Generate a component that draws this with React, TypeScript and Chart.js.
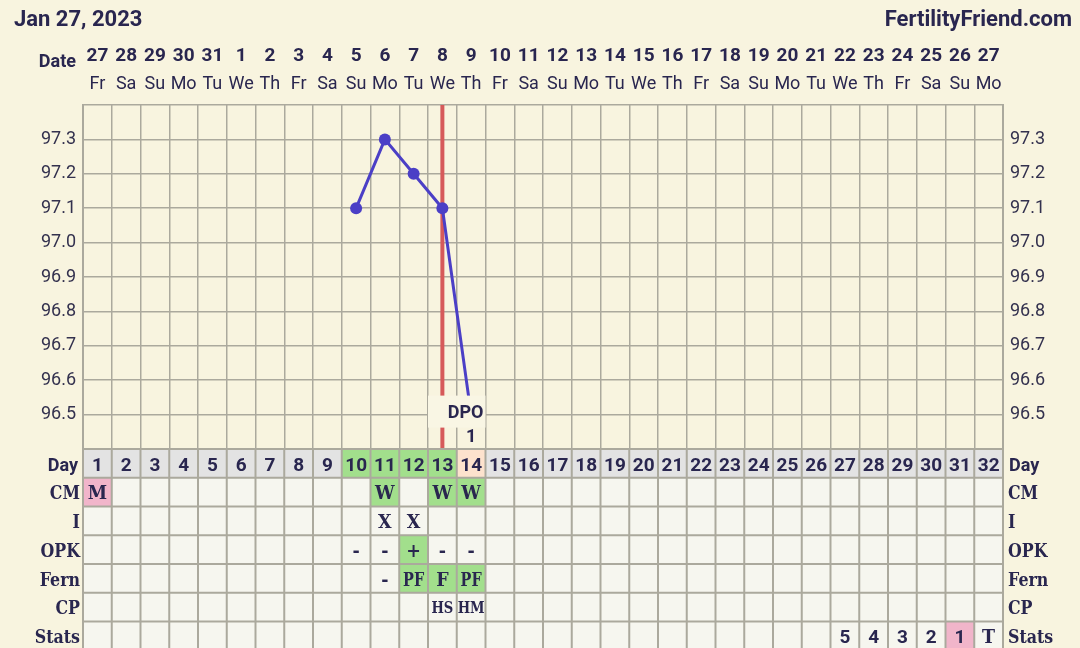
import React, { useEffect, useRef } from "react";
import { Chart, registerables } from "chart.js";

Chart.register(...registerables);

// ---------- data ----------
const cycleDays = [
  "1", "2", "3", "4", "5", "6", "7", "8", "9", "10", "11", "12", "13", "14", "15", "16",
  "17", "18", "19", "20", "21", "22", "23", "24", "25", "26", "27", "28", "29", "30", "31", "32",
];
const dates = [
  "27", "28", "29", "30", "31", "1", "2", "3", "4", "5", "6", "7", "8", "9", "10", "11",
  "12", "13", "14", "15", "16", "17", "18", "19", "20", "21", "22", "23", "24", "25", "26", "27",
];
const weekdays = [
  "Fr", "Sa", "Su", "Mo", "Tu", "We", "Th", "Fr", "Sa", "Su", "Mo", "Tu", "We", "Th", "Fr", "Sa",
  "Su", "Mo", "Tu", "We", "Th", "Fr", "Sa", "Su", "Mo", "Tu", "We", "Th", "Fr", "Sa", "Su", "Mo",
];
const temperatures: (number | null)[] = [
  null, null, null, null, null, null, null, null, null, 97.1, 97.3, 97.2, 97.1, 96.5, null, null,
  null, null, null, null, null, null, null, null, null, null, null, null, null, null, null, null,
];
const tempTicksMin = 96.4;
const tempTicksMax = 97.4;
const ovulationDay = 13;
const dpoLabel = "DPO";
const dpoDay = 14;
const dpoValue = "1";
const chartDate = "Jan 27, 2023";
const siteName = "FertilityFriend.com";

// table rows (keyed by cycle day)
const rowLabels = ["Day", "CM", "I", "OPK", "Fern", "CP", "Stats"];
const cmRow: Record<number, string> = { 1: "M", 11: "W", 13: "W", 14: "W" };
const intercourseRow: Record<number, string> = { 11: "X", 12: "X" };
const opkRow: Record<number, string> = { 10: "-", 11: "-", 12: "+", 13: "-", 14: "-" };
const fernRow: Record<number, string> = { 11: "-", 12: "PF", 13: "F", 14: "PF" };
const cpRow: Record<number, string> = { 13: "HS", 14: "HM" };
const statsRow: Record<number, string> = { 27: "5", 28: "4", 29: "3", 30: "2", 31: "1", 32: "T" };

// cell highlights (keyed by cycle day)
const dayHighlight: Record<number, string> = { 10: "green", 11: "green", 12: "green", 13: "green", 14: "peach" };
const cmHighlight: Record<number, string> = { 1: "pink", 11: "green", 13: "green", 14: "green" };
const opkHighlight: Record<number, string> = { 12: "green" };
const fernHighlight: Record<number, string> = { 12: "green", 13: "green", 14: "green" };
const statsHighlight: Record<number, string> = { 31: "pink" };

// ---------- styles ----------
const BG = "#f8f4df";
const INK = "#29264f";
const GRID = "#aba99d";
const CELL = "#f6f6ef";
const DAYCELL = "#e3e3e3";
const HL: Record<string, string> = { green: "#a2df8c", pink: "#f1b5ca", peach: "#fde2cd" };
const RED = "#d65a5a";
const LINE = "#4b3fc6";
const SANS = "Roboto";
const SLAB = '"DejaVu Serif"';

function txt(
  ctx: CanvasRenderingContext2D,
  s: string,
  x: number,
  y: number,
  font: string,
  align: CanvasTextAlign,
  color: string,
  condense = 1
) {
  ctx.font = font;
  ctx.textAlign = align;
  ctx.textBaseline = "alphabetic";
  ctx.fillStyle = color;
  if (condense < 1) {
    const w = ctx.measureText(s).width;
    ctx.fillText(s, x, y, w * condense);
  } else {
    ctx.fillText(s, x, y);
  }
}

const ffPlugin = {
  id: "ffPlugin",
  beforeDraw(chart: any) {
    const { ctx, width, height } = chart;
    ctx.save();
    ctx.fillStyle = BG;
    ctx.fillRect(0, 0, width, height);
    ctx.restore();
  },
  beforeDatasetsDraw(chart: any) {
    const { ctx, chartArea, scales } = chart;
    const x = scales.x.getPixelForValue(ovulationDay - 1);
    ctx.save();
    ctx.strokeStyle = RED;
    ctx.lineWidth = 4;
    ctx.beginPath();
    ctx.moveTo(x, chartArea.top);
    ctx.lineTo(x, chartArea.bottom);
    ctx.stroke();
    ctx.restore();
  },
  afterDatasetsDraw(chart: any) {
    const { ctx, chartArea, scales } = chart;
    const colW = (chartArea.right - chartArea.left) / cycleDays.length;
    const xs = scales.x;
    const ys = scales.y;
    const left = xs.getPixelForValue(dpoDay - 2) - colW / 2;
    const right = xs.getPixelForValue(dpoDay - 1) + colW / 2;
    const lineY = ys.getPixelForValue(96.5);
    ctx.save();
    ctx.fillStyle = "#f9f6e4";
    ctx.fillRect(left, lineY - 19, right - left, 32);
    txt(ctx, dpoLabel, right - 2, lineY + 3, `bold 18px ${SANS}`, "right", INK);
    txt(ctx, dpoValue, xs.getPixelForValue(dpoDay - 1), chartArea.bottom - 7, `bold 18px ${SANS}`, "center", INK);
    ctx.restore();
  },
  afterDraw(chart: any) {
    const { ctx, chartArea, scales, width } = chart;
    const xs = scales.x;
    const n = cycleDays.length;
    const colW = (chartArea.right - chartArea.left) / n;
    ctx.save();

    // header
    txt(ctx, chartDate, 14, 26, `bold 22px ${SANS}`, "left", INK);
    txt(ctx, siteName, width - 8, 26, `bold 22px ${SANS}`, "right", INK);
    txt(ctx, "Date", 76, 67, `bold 18px ${SANS}`, "right", INK);
    for (let i = 0; i < n; i++) {
      const cx = xs.getPixelForValue(i);
      txt(ctx, dates[i], cx, 61, `bold 19px ${SANS}`, "center", INK);
      txt(ctx, weekdays[i], cx, 89, `18px ${SANS}`, "center", INK);
    }

    // table
    const rowH = colW;
    const top = chartArea.bottom;
    const rows: Record<number, string>[] = [
      {},
      cmRow,
      intercourseRow,
      opkRow,
      fernRow,
      cpRow,
      statsRow,
    ];
    const highlights: Record<number, string>[] = [
      dayHighlight,
      cmHighlight,
      {},
      opkHighlight,
      fernHighlight,
      {},
      statsHighlight,
    ];
    for (let r = 0; r < rowLabels.length; r++) {
      const y0 = top + r * rowH;
      for (let i = 0; i < n; i++) {
        const day = Number(cycleDays[i]);
        const x0 = xs.getPixelForValue(i) - colW / 2;
        const hl = highlights[r][day];
        ctx.fillStyle = hl ? HL[hl] : r === 0 ? DAYCELL : CELL;
        ctx.fillRect(x0, y0, colW, rowH);
      }
    }
    // grid lines
    ctx.strokeStyle = GRID;
    ctx.lineWidth = 2;
    ctx.beginPath();
    for (let r = 0; r <= rowLabels.length; r++) {
      const y = top + r * rowH;
      ctx.moveTo(chartArea.left, y);
      ctx.lineTo(chartArea.right, y);
    }
    for (let i = 0; i <= n; i++) {
      const x = chartArea.left + i * colW;
      ctx.moveTo(x, top);
      ctx.lineTo(x, top + rowLabels.length * rowH);
    }
    ctx.stroke();

    // contents
    for (let r = 0; r < rowLabels.length; r++) {
      const y0 = top + r * rowH;
      const label = rowLabels[r];
      if (r === 0) {
        txt(ctx, label, 78, y0 + 21.5, `bold 18px ${SANS}`, "right", INK);
        txt(ctx, label, chartArea.right + 6, y0 + 21.5, `bold 18px ${SANS}`, "left", INK);
      } else {
        txt(ctx, label, 80, y0 + 21.5, `bold 18px ${SLAB}`, "right", INK, 0.88);
        txt(ctx, label, chartArea.right + 5, y0 + 21.5, `bold 18px ${SLAB}`, "left", INK, 0.88);
      }
      for (let i = 0; i < n; i++) {
        const day = Number(cycleDays[i]);
        const cx = xs.getPixelForValue(i);
        const s = r === 0 ? cycleDays[i] : rows[r][day];
        if (!s) continue;
        if (/^\d+$/.test(s)) {
          txt(ctx, s, cx, y0 + 21.5, `bold 19px ${SANS}`, "center", INK);
        } else if (s.length === 2 && r === 5) {
          txt(ctx, s, cx, y0 + 20, `bold 16px ${SLAB}`, "center", INK, 0.82);
        } else if (s.length === 2) {
          txt(ctx, s, cx, y0 + 21.5, `bold 18px ${SLAB}`, "center", INK, 0.8);
        } else {
          txt(ctx, s, cx, y0 + 21.5, `bold 19px ${SLAB}`, "center", INK, 0.92);
        }
      }
    }
    ctx.restore();
  },
};

export default function App() {
  const ref = useRef<HTMLCanvasElement>(null);

  useEffect(() => {
    document.body.style.margin = "0";
    const canvas = ref.current;
    if (!canvas) return;
    const tickFmt = (v: any) => {
      const n = Number(v);
      return n > tempTicksMin + 0.05 && n < tempTicksMax - 0.05 ? n.toFixed(1) : "";
    };
    const chart = new Chart(canvas, {
      type: "line",
      data: {
        labels: cycleDays,
        datasets: [
          {
            data: temperatures,
            borderColor: LINE,
            backgroundColor: LINE,
            borderWidth: 3,
            pointRadius: 6,
            pointBorderWidth: 0,
            pointBackgroundColor: LINE,
            spanGaps: false,
            tension: 0,
          },
        ],
      },
      options: {
        animation: false,
        responsive: false,
        devicePixelRatio: 1,
        layout: { padding: { top: 105, bottom: 199, left: 0, right: 0 } },
        plugins: { legend: { display: false }, tooltip: { enabled: false } },
        scales: {
          x: {
            type: "category",
            offset: true,
            grid: { offset: true, color: GRID, lineWidth: 1.5, drawTicks: false },
            border: { display: false },
            ticks: { display: false },
            afterFit: (s: any) => {
              s.height = 0;
            },
          },
          y: {
            position: "left",
            min: tempTicksMin,
            max: tempTicksMax,
            grid: { color: GRID, lineWidth: 1.5, drawTicks: false },
            border: { display: true, color: GRID, width: 2 },
            ticks: {
              stepSize: 0.1,
              padding: 7,
              color: "#33314e",
              font: { family: SANS, size: 18 },
              callback: tickFmt,
            },
            afterFit: (s: any) => {
              s.width = 83;
            },
          },
          y2: {
            position: "right",
            min: tempTicksMin,
            max: tempTicksMax,
            grid: { display: false, drawTicks: false },
            border: { display: true, color: GRID, width: 2 },
            ticks: {
              stepSize: 0.1,
              padding: 7,
              color: "#33314e",
              font: { family: SANS, size: 18 },
              callback: tickFmt,
            },
            afterFit: (s: any) => {
              s.width = 77;
            },
          },
        },
      } as any,
      plugins: [ffPlugin],
    });
    return () => chart.destroy();
  }, []);

  return <canvas ref={ref} width={1080} height={648} style={{ display: "block" }} />;
}
